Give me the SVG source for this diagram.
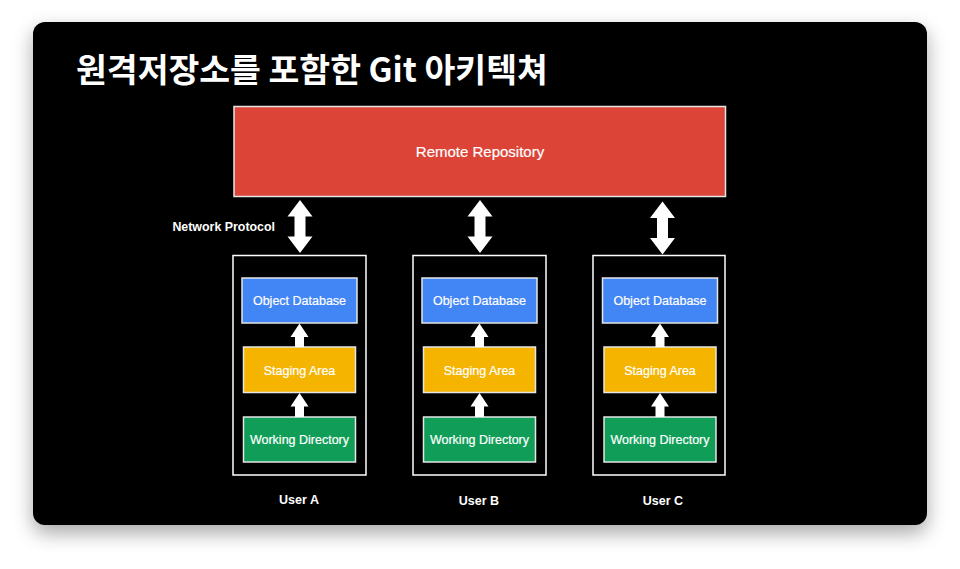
<svg xmlns="http://www.w3.org/2000/svg" width="960" height="569" viewBox="0 0 960 569">
<defs>
<filter id="sh" x="-10%" y="-10%" width="120%" height="130%">
<feGaussianBlur in="SourceAlpha" stdDeviation="10"/>
<feOffset dy="8"/>
<feComponentTransfer><feFuncA type="linear" slope="0.35"/></feComponentTransfer>
<feMerge><feMergeNode/><feMergeNode in="SourceGraphic"/></feMerge>
</filter>
<style>
.t{font-family:"Liberation Sans","Noto Sans",Arial,sans-serif;fill:#fff;text-anchor:middle}
.lbl{font-size:12.5px;stroke:#fff;stroke-width:0.2}
.b{font-weight:bold}
.box{stroke:#e6e6e6;stroke-width:1.5}
.user{fill:none;stroke:#fff;stroke-width:1.5}
.arr{fill:#fff}
</style>
</defs>
<rect width="960" height="569" fill="#fff"/>
<rect x="33" y="22" width="894" height="503" rx="12" fill="#000" filter="url(#sh)"/>
<text x="76" y="82" font-family="'Noto Sans CJK KR','Noto Sans',sans-serif" font-weight="bold" font-size="33.5" fill="#fff">원격저장소를 포함한 Git 아키텍쳐</text>

<g id="remote">
<rect class="box" x="234" y="106.5" width="491.5" height="90" fill="#DB4437"/>
<text class="t" x="480" y="157" font-size="15" stroke="#fff" stroke-width="0.2">Remote Repository</text>
</g>
<text class="t b" x="275" y="231" font-size="12.4" style="text-anchor:end">Network Protocol</text>

<g id="userA">
<rect class="user" x="233" y="255.5" width="133" height="219.5"/>
<text class="t b" x="299" y="504" font-size="12.5">User A</text>
</g>
<g id="objA"><rect class="box" x="242" y="278" width="115" height="45" fill="#4285F4"/><text class="t lbl" x="299.5" y="305">Object Database</text></g>
<g id="stgA"><rect class="box" x="243.5" y="347" width="112" height="45.5" fill="#F4B400"/><text class="t lbl" x="299.5" y="375">Staging Area</text></g>
<g id="wrkA"><rect class="box" x="243.5" y="417" width="112" height="45" fill="#0F9D58"/><text class="t lbl" x="299.5" y="444">Working Directory</text></g>

<g id="userB">
<rect class="user" x="413" y="255.5" width="133" height="219.5"/>
<text class="t b" x="479" y="505" font-size="12.5">User B</text>
</g>
<g id="objB"><rect class="box" x="422" y="278" width="115" height="45" fill="#4285F4"/><text class="t lbl" x="479.5" y="305">Object Database</text></g>
<g id="stgB"><rect class="box" x="423.5" y="347" width="112" height="45.5" fill="#F4B400"/><text class="t lbl" x="479.5" y="375">Staging Area</text></g>
<g id="wrkB"><rect class="box" x="423.5" y="417" width="112" height="45" fill="#0F9D58"/><text class="t lbl" x="479.5" y="444">Working Directory</text></g>

<g id="userC">
<rect class="user" x="593" y="255.5" width="132" height="219.5"/>
<text class="t b" x="663" y="505" font-size="12.5">User C</text>
</g>
<g id="objC"><rect class="box" x="602.5" y="278" width="115" height="45" fill="#4285F4"/><text class="t lbl" x="660" y="305">Object Database</text></g>
<g id="stgC"><rect class="box" x="604" y="347" width="112" height="45.5" fill="#F4B400"/><text class="t lbl" x="660" y="375">Staging Area</text></g>
<g id="wrkC"><rect class="box" x="604" y="417" width="112" height="45" fill="#0F9D58"/><text class="t lbl" x="660" y="444">Working Directory</text></g>

<g id="connectors">
<path class="arr" d="M300 200 L312.5 216.5 L305.5 216.5 L305.5 236.5 L312.5 236.5 L300 253 L287.5 236.5 L294.5 236.5 L294.5 216.5 L287.5 216.5 Z"/>
<path class="arr" d="M480 200 L492.5 216.5 L485.5 216.5 L485.5 236.5 L492.5 236.5 L480 253 L467.5 236.5 L474.5 236.5 L474.5 216.5 L467.5 216.5 Z"/>
<path class="arr" d="M662.5 201.5 L675 218 L668 218 L668 238 L675 238 L662.5 254.5 L650 238 L657 238 L657 218 L650 218 Z"/>
<path class="arr" d="M299.5 323.5 L308.5 337 L304 337 L304 347 L295 347 L295 337 L290.5 337 Z"/>
<path class="arr" d="M299.5 393 L308.5 406.5 L304 406.5 L304 417 L295 417 L295 406.5 L290.5 406.5 Z"/>
<path class="arr" d="M479.5 323.5 L488.5 337 L484 337 L484 347 L475 347 L475 337 L470.5 337 Z"/>
<path class="arr" d="M479.5 393 L488.5 406.5 L484 406.5 L484 417 L475 417 L475 406.5 L470.5 406.5 Z"/>
<path class="arr" d="M660 323.5 L669 337 L664.5 337 L664.5 347 L655.5 347 L655.5 337 L651 337 Z"/>
<path class="arr" d="M660 393 L669 406.5 L664.5 406.5 L664.5 417 L655.5 417 L655.5 406.5 L651 406.5 Z"/>
</g>
</svg>
